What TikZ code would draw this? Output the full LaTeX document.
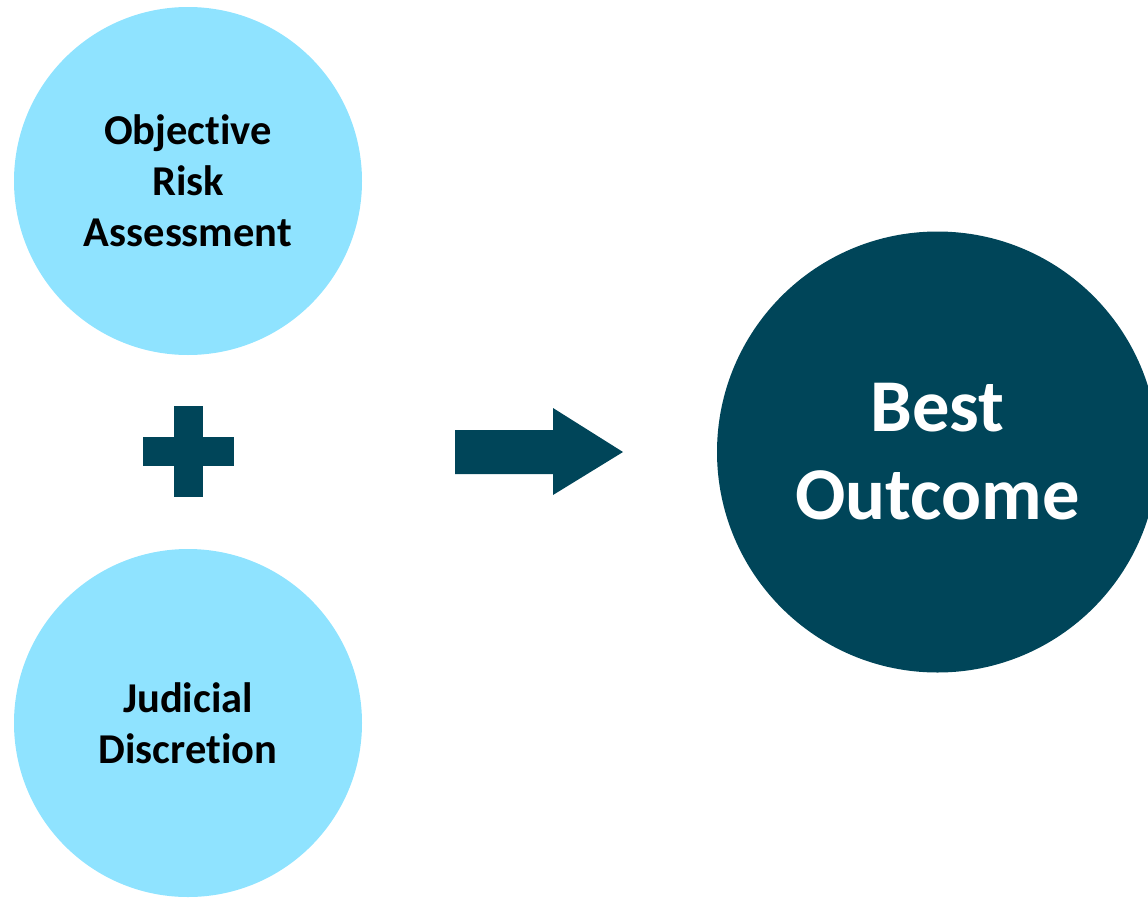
\documentclass[tikz,border=0pt]{standalone}
\usepackage{fontspec}
\setmainfont{Carlito}[Ligatures=NoCommon]
\definecolor{lightblue}{HTML}{8FE3FF}
\definecolor{darkteal}{HTML}{004559}
\begin{document}
\begin{tikzpicture}[x=1pt,y=-1pt,
  smallcircle/.style={circle,fill=lightblue,minimum size=348pt,inner sep=0pt,align=center,
    font=\fontsize{42.5}{51}\selectfont\bfseries,text=black},
  bigcircle/.style={circle,fill=darkteal,minimum size=441pt,inner sep=0pt,align=center,
    font=\fontsize{74.5}{88}\selectfont\bfseries,text=white},
  shapefill/.style={fill=darkteal}]
\useasboundingbox (0,0) rectangle (1148,897);
\node[smallcircle] (ora) at (188,181) {Objective\\Risk\\Assessment};
\node[smallcircle] (jd) at (188,723) {Judicial\\Discretion};
\node[bigcircle] (best) at (937.5,452) {Best\\Outcome};
% plus sign
\fill[shapefill] (174,406) rectangle (203,497);
\fill[shapefill] (143,437) rectangle (234,466);
% arrow
\fill[shapefill] (455,430) -- (553,430) -- (553,408) -- (623,452) -- (553,495) -- (553,474) -- (455,474) -- cycle;
\end{tikzpicture}
\end{document}
